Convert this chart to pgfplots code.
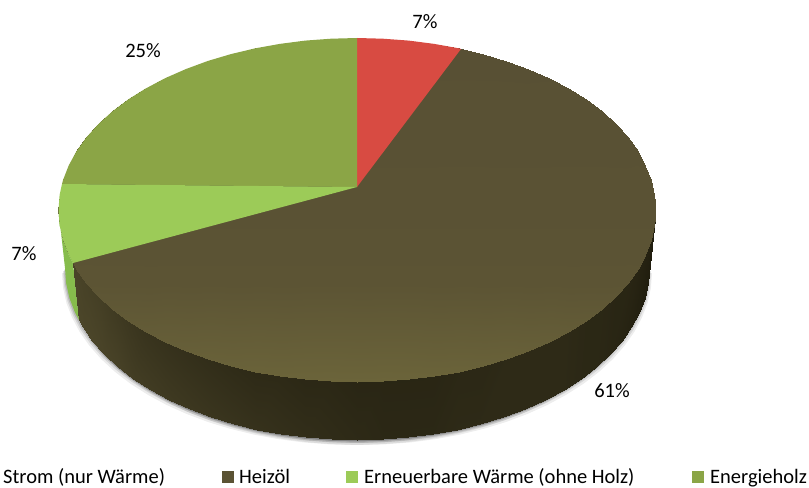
\documentclass[border=0pt]{standalone}
\usepackage{pgfplots}
\usepackage{pgfplotstable}
\usepackage{fontspec}
\setmainfont{Carlito}
\pgfplotsset{compat=1.18,
  colormap={sideCM}{rgb255(0cm)=(33,30,15) rgb255(10cm)=(75,69,41)},
  colormap={topCM}{rgb255(0cm)=(88,80,52) rgb255(6cm)=(92,84,52) rgb255(10cm)=(107,100,58)}}
\definecolor{cRed}{HTML}{D84B42}
\definecolor{cOil}{HTML}{5B5334}
\definecolor{cLight}{HTML}{9CCB58}
\definecolor{cLightSide}{HTML}{86BC4C}
\definecolor{cWood}{HTML}{8BA546}
\pgfplotstableread{
x y
65 268
66.1 283
69.4 297.9
75 312.5
82.6 326.8
92.4 340.7
104.1 354
117.8 366.7
133.3 378.6
150.5 389.6
169.3 399.8
189.5 408.9
211 417
233.6 423.9
257.1 429.6
281.4 434.1
306.3 437.4
331.5 439.3
357 440
382.5 439.3
407.7 437.4
432.6 434.1
456.9 429.6
480.4 423.9
503 417
524.5 408.9
544.7 399.8
563.5 389.6
580.7 378.6
596.2 366.7
609.9 354
621.6 340.7
631.4 326.8
639 312.5
644.6 297.9
647.9 283
649 268
}\bottomarc
\pgfplotstableread{
x y c
73 263 .95
79 320 1
76.5 268.8 .95
82.6 326.8 1
86.5 282.7 .9
92.4 340.7 1
98.5 296 .85
104.1 354 .95
112.5 308.7 .75
117.8 366.7 .9
128.3 320.6 .65
133.3 378.6 .8
145.9 331.6 .55
150.5 389.6 .75
165.1 341.8 .5
169.3 399.8 .7
185.8 350.9 .45
189.5 408.9 .65
207.7 359 .4
211 417 .6
230.9 365.9 .35
233.6 423.9 .55
254.9 371.6 .3
257.1 429.6 .5
279.7 376.1 .3
281.4 434.1 .45
305.2 379.4 .25
306.3 437.4 .4
331 381.3 .25
331.5 439.3 .35
357 382 .2
357 440 .3
383 381.3 .2
382.5 439.3 .25
408.8 379.4 .2
407.7 437.4 .25
434.3 376.1 .2
432.6 434.1 .25
459.1 371.6 .25
456.9 429.6 .3
483.1 365.9 .25
480.4 423.9 .3
506.3 359 .3
503 417 .3
528.2 350.9 .3
524.5 408.9 .3
548.9 341.8 .3
544.7 399.8 .3
568.1 331.6 .3
563.5 389.6 .3
585.7 320.6 .25
580.7 378.6 .25
601.5 308.7 .25
596.2 366.7 .25
615.5 296 .2
609.9 354 .2
627.5 282.7 .2
621.6 340.7 .15
637.5 268.8 .15
631.4 326.8 .1
645.3 254.5 .1
639 312.5 .05
651 239.9 .05
644.6 297.9 0
654.4 225 .05
647.9 283 0
655.5 210 0
649 268 0
}\sidemesh
\pgfplotstableread{
x y c
58.5 210 .3
58.5 210 .3
58.5 210 .3
59.6 195 .27
59.6 210 .3
59.6 225 .36
63 180.1 .25
63 210 .3
63 239.9 .42
68.7 165.5 .22
68.7 210 .3
68.7 254.5 .48
76.5 151.2 .2
76.5 210 .3
76.5 268.8 .54
86.5 137.3 .17
86.5 210 .3
86.5 282.7 .6
98.5 124 .15
98.5 210 .3
98.5 296 .65
112.5 111.3 .13
112.5 210 .3
112.5 308.7 .7
128.3 99.4 .11
128.3 210 .3
128.3 320.6 .75
145.9 88.4 .09
145.9 210 .3
145.9 331.6 .79
165.1 78.2 .07
165.1 210 .3
165.1 341.8 .84
185.8 69.1 .05
185.8 210 .3
185.8 350.9 .87
207.7 61 .04
207.7 210 .3
207.7 359 .91
230.9 54.1 .03
230.9 210 .3
230.9 365.9 .93
254.9 48.4 .02
254.9 210 .3
254.9 371.6 .96
279.7 43.9 .01
279.7 210 .3
279.7 376.1 .97
305.2 40.6 0
305.2 210 .3
305.2 379.4 .99
331 38.7 0
331 210 .3
331 381.3 1
357 38 0
357 210 .3
357 382 1
383 38.7 0
383 210 .3
383 381.3 1
408.8 40.6 0
408.8 210 .3
408.8 379.4 .99
434.3 43.9 .01
434.3 210 .3
434.3 376.1 .97
459.1 48.4 .02
459.1 210 .3
459.1 371.6 .96
483.1 54.1 .03
483.1 210 .3
483.1 365.9 .93
506.3 61 .04
506.3 210 .3
506.3 359 .91
528.2 69.1 .05
528.2 210 .3
528.2 350.9 .87
548.9 78.2 .07
548.9 210 .3
548.9 341.8 .84
568.1 88.4 .09
568.1 210 .3
568.1 331.6 .79
585.7 99.4 .11
585.7 210 .3
585.7 320.6 .75
601.5 111.3 .13
601.5 210 .3
601.5 308.7 .7
615.5 124 .15
615.5 210 .3
615.5 296 .65
627.5 137.3 .17
627.5 210 .3
627.5 282.7 .6
637.5 151.2 .2
637.5 210 .3
637.5 268.8 .54
645.3 165.5 .22
645.3 210 .3
645.3 254.5 .48
651 180.1 .25
651 210 .3
651 239.9 .42
654.4 195 .27
654.4 210 .3
654.4 225 .36
655.5 210 .3
655.5 210 .3
655.5 210 .3
}\topmesh
\begin{document}
\begin{tikzpicture}
\path[use as bounding box] (0,0) rectangle (809bp,488bp);
\begin{axis}[
  at={(0,0)}, anchor=south west,
  width=809bp, height=488bp, scale only axis,
  xmin=0, xmax=809, ymin=0, ymax=488, y dir=reverse,
  point meta min=0, point meta max=1,
  hide axis, clip=false]
% soft shadow under the disc
\addplot[fill=black,draw=none,fill opacity=.07,xshift=-3bp,yshift=-5bp] table {\bottomarc};
\addplot[fill=black,draw=none,fill opacity=.07,xshift=3bp,yshift=-5bp] table {\bottomarc};
\addplot[fill=black,draw=none,fill opacity=.10,xshift=-2bp,yshift=-3bp] table {\bottomarc};
\addplot[fill=black,draw=none,fill opacity=.10,xshift=2bp,yshift=-3bp] table {\bottomarc};
\addplot[fill=black,draw=none,fill opacity=.14,xshift=-1bp,yshift=-1.5bp] table {\bottomarc};
\addplot[fill=black,draw=none,fill opacity=.14,xshift=1bp,yshift=-1.5bp] table {\bottomarc};
% side wall
\addplot[fill=cLightSide,draw=none] coordinates {(58.5,210)(59.6,225)(63,239.9)(68.7,254.5)(73,263)(79,320)(75,312.5)(69.4,297.9)(66.1,283)(65,268)};
\addplot[surf,mesh/cols=2,shader=interp,colormap name=sideCM,point meta=explicit] table[x=x,y=y,meta=c] {\sidemesh};
% top face
\addplot[surf,mesh/cols=3,shader=interp,colormap name=topCM,point meta=explicit] table[x=x,y=y,meta=c] {\topmesh};
\addplot[fill=cRed,draw=none] coordinates {(357,187)(357,38)(383,38.7)(408.8,40.6)(434.3,43.9)(459.1,48.4)(461,49)};
\addplot[fill=cWood,draw=none] coordinates {(357,187)(357,38)(331,38.7)(305.2,40.6)(279.7,43.9)(254.9,48.4)(230.9,54.1)(207.7,61)(185.8,69.1)(165.1,78.2)(145.9,88.4)(128.3,99.4)(112.5,111.3)(98.5,124)(86.5,137.3)(76.5,151.2)(68.7,165.5)(63,180.1)(62,184)};
\addplot[fill=cLight,draw=none] coordinates {(357,187)(62,184)(59.6,195)(58.5,210)(59.6,225)(63,239.9)(68.7,254.5)(73,263)};
% legend keys
\addplot[fill=cOil,draw=none] coordinates {(222,471)(234,471)(234,483)(222,483)};
\addplot[fill=cLight,draw=none] coordinates {(346,471)(358,471)(358,483)(346,483)};
\addplot[fill=cWood,draw=none] coordinates {(692,471)(704,471)(704,483)(692,483)};
% texts
\def\fs{\fontsize{20.5bp}{24bp}\selectfont}
\node[anchor=base west,inner sep=0pt] at (axis cs:3,483) {\fs Strom (nur Wärme)};
\node[anchor=base west,inner sep=0pt] at (axis cs:239,483) {\fs Heizöl};
\node[anchor=base west,inner sep=0pt] at (axis cs:364,483) {\fs Erneuerbare Wärme (ohne Holz)};
\node[anchor=base west,inner sep=0pt] at (axis cs:710,483) {\fs Energieholz};
\node[inner sep=0pt] at (axis cs:425,22) {\fs 7\%};
\node[inner sep=0pt] at (axis cs:143,51) {\fs 25\%};
\node[inner sep=0pt] at (axis cs:24,254) {\fs 7\%};
\node[inner sep=0pt] at (axis cs:612,391) {\fs 61\%};
\end{axis}
\end{tikzpicture}
\end{document}
